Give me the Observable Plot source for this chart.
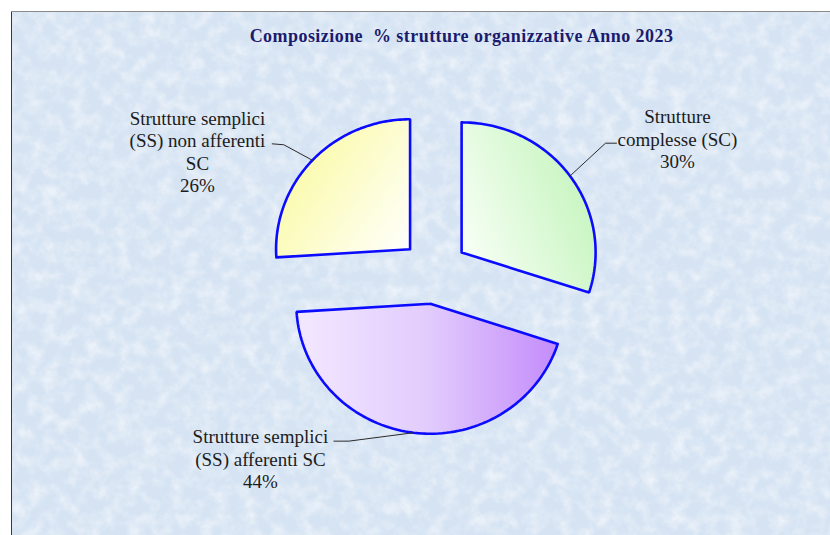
<!DOCTYPE html>
<html><head><meta charset="utf-8">
<script src="https://cdn.jsdelivr.net/npm/d3@7"></script>
<script src="https://cdn.jsdelivr.net/npm/@observablehq/plot@0.6"></script>
<style>html,body{margin:0;padding:0;background:#fff;} #chart{width:830px;height:535px;position:relative;} #chart svg text{font-family:"Liberation Serif","DejaVu Serif",serif;} #chart svg g.title text{letter-spacing:0.45px;}</style>
</head><body><div id="chart"></div>
<script>
// ---- data ----
const title = "Composizione\u00a0 % strutture organizzative Anno 2023";
const categories = ["Strutture complesse (SC)", "Strutture semplici (SS) afferenti SC", "Strutture semplici (SS) non afferenti SC"];
const shares = [30, 44, 26];
const labelLines = [["Strutture", "complesse (SC)"], ["Strutture semplici", "(SS) afferenti SC"], ["Strutture semplici", "(SS) non afferenti", "SC"]];

// ---- layout (unit-circle coordinates, mapped by the x/y scales) ----
const cx = 434, cy = 271, rx = 134, ry = 130, explode = 0.25;
const labelPos = [[1.813, 1.023], [-1.299, -1.438], [-1.769, 0.923]];
const leaderElbow = [[1.276, 0.987], [-0.639, -1.305], [-1.125, 0.975]];
const leaderEnd = [[1.358, 0.987], [-0.751, -1.305], [-1.211, 0.982]];
const titlePos = [0.2015, 1.81];
const gradIds = ["gGreen", "gPurple", "gYellow"];
const serif = "Liberation Serif";

const arcs = d3.pie().sort(null).value(d => d)(shares);

const slices = arcs.map((a, i) => {
  const mid = (a.startAngle + a.endAngle) / 2;
  const ox = explode * Math.sin(mid), oy = explode * Math.cos(mid);
  const pts = [{x: ox, y: oy}];
  const n = 90;
  for (let k = 0; k <= n; k++) {
    const t = a.startAngle + (a.endAngle - a.startAngle) * k / n;
    pts.push({x: ox + Math.sin(t), y: oy + Math.cos(t)});
  }
  pts.push({x: ox, y: oy});
  pts.push(pts[1]);
  return pts;
});

const leaders = arcs.flatMap((a, i) => {
  const mid = (a.startAngle + a.endAngle) / 2;
  const ox = explode * Math.sin(mid), oy = explode * Math.cos(mid);
  return [
    {z: i, x: ox + Math.sin(mid), y: oy + Math.cos(mid)},
    {z: i, x: leaderElbow[i][0], y: leaderElbow[i][1]},
    {z: i, x: leaderEnd[i][0], y: leaderEnd[i][1]}
  ];
});

const labels = categories.map((c, i) => ({
  text: labelLines[i].join("\n") + "\n" + shares[i] + "%",
  x: labelPos[i][0], y: labelPos[i][1]
}));

const svg = Plot.plot({
  width: 830, height: 535,
  margin: 0,
  style: {background: "transparent", overflow: "visible"},
  x: {domain: [-1, 1], range: [cx - rx, cx + rx], axis: null},
  y: {domain: [-1, 1], range: [cy + ry, cy - ry], axis: null},
  marks: [
    ...slices.map((pts, i) => Plot.line(pts, {
      x: "x", y: "y", curve: "linear",
      fill: `url(#${gradIds[i]})`, stroke: "#0b0bff", strokeWidth: 2.6, strokeLinejoin: "miter"
    })),
    Plot.line(leaders, {x: "x", y: "y", z: "z", stroke: "#2a2a2a", strokeWidth: 1}),
    Plot.text(labels, {x: "x", y: "y", text: "text", fontSize: 19, fontFamily: serif, lineHeight: 1.18, fill: "#1c1c1c", textAnchor: "middle"}),
    Plot.text([title], {x: () => titlePos[0], y: () => titlePos[1], text: d => d, fontSize: 18, fontFamily: serif, fontWeight: "bold", fill: "#1b1b6e", className: "title"})
  ]
});

// background, frame and gradients
const NS = "http://www.w3.org/2000/svg";
const bg = document.createElementNS(NS, "g");
bg.innerHTML = `
<defs>
  <filter id="tex" x="0" y="0" width="100%" height="100%">
    <feTurbulence type="fractalNoise" baseFrequency="0.07" numOctaves="4" seed="7" result="n"/>
    <feColorMatrix in="n" type="matrix" values="0 0 0 0 1  0 0 0 0 1  0 0 0 0 1  1.1 0 0 0 -0.42"/>
  </filter>
  <linearGradient id="gGreen" x1="0" y1="0.75" x2="1" y2="0.25">
    <stop offset="0" stop-color="#f8fff6"/><stop offset="1" stop-color="#c2f4ba"/>
  </linearGradient>
  <linearGradient id="gPurple" x1="0" y1="0" x2="1" y2="0">
    <stop offset="0" stop-color="#f3e8ff"/><stop offset="0.5" stop-color="#e2ccfd"/><stop offset="1" stop-color="#c48cfb"/>
  </linearGradient>
  <linearGradient id="gYellow" x1="0" y1="0.3" x2="1" y2="1">
    <stop offset="0" stop-color="#fafaa2"/><stop offset="1" stop-color="#ffffff"/>
  </linearGradient>
</defs>
<rect x="11" y="11" width="830" height="530" fill="#d5e3f3"/>
<rect x="11" y="11" width="830" height="530" filter="url(#tex)"/>
<line x1="11.5" y1="11" x2="11.5" y2="535" stroke="#3a3a3a" stroke-width="1"/>
<line x1="11" y1="11.5" x2="830" y2="11.5" stroke="#8a8a8a" stroke-width="1"/>
`;
const firstMark = svg.querySelector("g");
svg.insertBefore(bg, firstMark);
document.getElementById("chart").appendChild(svg);
</script>
</body></html>
